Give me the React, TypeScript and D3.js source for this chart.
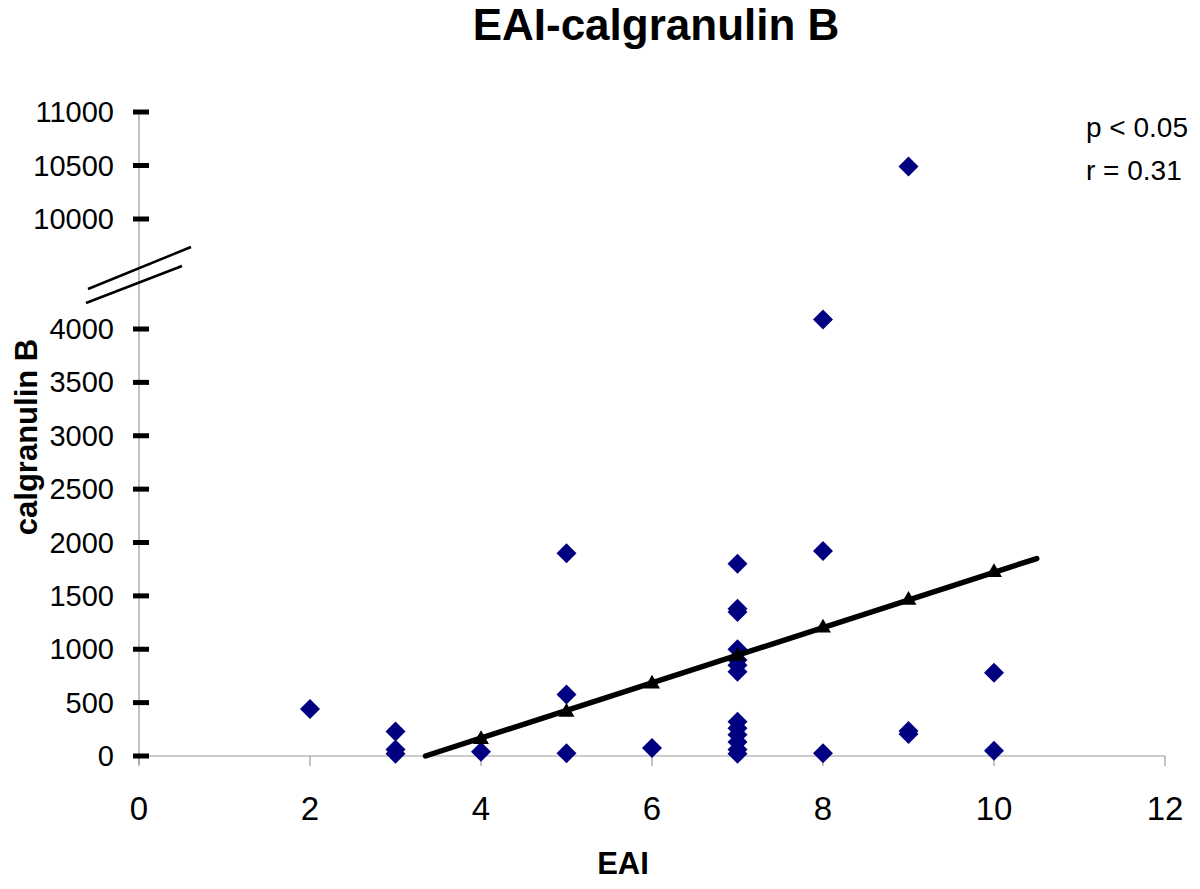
import React, { useRef, useEffect } from "react";
import * as d3 from "d3";

// observed points: EAI score vs calgranulin B
const eai = [2, 3, 3, 3, 4, 5, 5, 5, 6, 7, 7, 7, 7, 7, 7, 7, 7, 7, 7, 7, 7, 7, 8, 8, 8, 9, 9, 9, 10, 10];
const calgranulin = [
  440, 230, 60, 20, 40, 1900, 575, 25, 75, 1800, 1380, 1350, 1000, 900, 850, 790, 320, 260, 200, 130, 60, 20, 4090,
  1920, 25, 10490, 235, 205, 780, 50,
];

// regression line (triangle markers) and its ends
const trendX = [4, 5, 6, 7, 8, 9, 10];
const trendY = [155, 410, 675, 935, 1200, 1460, 1720];
const trendEnds: [number, number][] = [
  [3.35, 0],
  [10.5, 1850],
];

const xTicks = [0, 2, 4, 6, 8, 10, 12];
const yTicksLow = [0, 500, 1000, 1500, 2000, 2500, 3000, 3500, 4000];
const yTicksHigh = [10000, 10500, 11000];

const W = 1200;
const H = 889;

export default function App() {
  const svgRef = useRef<SVGSVGElement>(null);

  useEffect(() => {
    if (!svgRef.current) return;
    const svg = d3.select(svgRef.current);
    svg.selectAll("*").remove();

    const font = "'Liberation Sans', Arial, sans-serif";

    const x = d3.scaleLinear().domain([0, 12]).range([139, 1165]);
    // broken y axis: two segments with the same px per unit
    const yLow = d3.scaleLinear().domain([0, 4000]).range([756, 329]);
    const yHigh = d3.scaleLinear().domain([10000, 11000]).range([219, 112]);
    const y = (v: number) => (v >= 10000 ? yHigh(v) : yLow(v));

    // title
    svg
      .append("text")
      .attr("x", 656)
      .attr("y", 40)
      .attr("text-anchor", "middle")
      .style("font-family", font)
      .style("font-size", "44px")
      .style("font-weight", "bold")
      .text("EAI-calgranulin B");

    // axes lines
    svg
      .append("line")
      .attr("x1", x(0))
      .attr("x2", x(12))
      .attr("y1", yLow(0))
      .attr("y2", yLow(0))
      .style("stroke", "#9a9a9a")
      .style("stroke-width", 1.2);
    svg
      .append("line")
      .attr("x1", x(0))
      .attr("x2", x(0))
      .attr("y1", yHigh(11000))
      .attr("y2", yLow(0) + 8)
      .style("stroke", "#9a9a9a")
      .style("stroke-width", 1.2);

    // x ticks + labels
    const xg = svg.append("g");
    xg.selectAll("line")
      .data(xTicks)
      .join("line")
      .attr("x1", (d) => x(d))
      .attr("x2", (d) => x(d))
      .attr("y1", yLow(0))
      .attr("y2", yLow(0) + 10)
      .style("stroke", "#9a9a9a")
      .style("stroke-width", 1.2);
    xg.selectAll("text")
      .data(xTicks)
      .join("text")
      .attr("x", (d) => x(d))
      .attr("y", 820)
      .attr("text-anchor", "middle")
      .style("font-family", font)
      .style("font-size", "33px")
      .text((d) => d);

    // y ticks + labels (both segments)
    const yTicks = [...yTicksLow, ...yTicksHigh];
    const yg = svg.append("g");
    yg.selectAll("line")
      .data(yTicks)
      .join("line")
      .attr("x1", x(0) - 6)
      .attr("x2", x(0) + 10)
      .attr("y1", (d) => y(d))
      .attr("y2", (d) => y(d))
      .style("stroke", "#000")
      .style("stroke-width", 5);
    yg.selectAll("text")
      .data(yTicks)
      .join("text")
      .attr("x", 114)
      .attr("y", (d) => y(d) + 10)
      .attr("text-anchor", "end")
      .style("font-family", font)
      .style("font-size", "29px")
      .text((d) => d);

    // axis break marks
    const breakG = svg.append("g").style("stroke", "#000").style("stroke-width", 2.5);
    breakG.append("line").attr("x1", 88).attr("y1", 289).attr("x2", 191).attr("y2", 247);
    breakG.append("line").attr("x1", 86).attr("y1", 303).attr("x2", 182).attr("y2", 266);

    // axis titles
    svg
      .append("text")
      .attr("x", 623)
      .attr("y", 874)
      .attr("text-anchor", "middle")
      .style("font-family", font)
      .style("font-size", "31px")
      .style("font-weight", "bold")
      .text("EAI");
    svg
      .append("text")
      .attr("transform", `translate(37,437) rotate(-90)`)
      .attr("text-anchor", "middle")
      .style("font-family", font)
      .style("font-size", "31px")
      .style("font-weight", "bold")
      .text("calgranulin B");

    // annotation
    const ann = svg
      .append("text")
      .style("font-family", font)
      .style("font-size", "28px");
    ann.append("tspan").attr("x", 1086).attr("y", 137).text("p < 0.05");
    ann.append("tspan").attr("x", 1086).attr("y", 180).text("r = 0.31");

    // data diamonds
    const diamond = d3.symbol().type(d3.symbolSquare).size(200);
    svg
      .append("g")
      .selectAll("path")
      .data(d3.zip(eai, calgranulin))
      .join("path")
      .attr("d", diamond)
      .attr("transform", (d) => `translate(${x(d[0])},${y(d[1])}) rotate(45)`)
      .attr("fill", "#000080");

    // regression line
    const line = d3
      .line<[number, number]>()
      .x((d) => x(d[0]))
      .y((d) => yLow(d[1]));
    svg
      .append("path")
      .attr("d", line(trendEnds))
      .attr("fill", "none")
      .style("stroke", "#000")
      .style("stroke-width", 5.5)
      .style("stroke-linecap", "round");

    const tri = d3.symbol().type(d3.symbolTriangle).size(110);
    svg
      .append("g")
      .selectAll("path")
      .data(d3.zip(trendX, trendY))
      .join("path")
      .attr("d", tri)
      .attr("transform", (d) => `translate(${x(d[0])},${yLow(d[1])})`)
      .attr("fill", "#000");
  }, []);

  return (
    <svg
      ref={svgRef}
      width={W}
      height={H}
      style={{ position: "absolute", left: 0, top: 0, background: "#fff" }}
    />
  );
}
